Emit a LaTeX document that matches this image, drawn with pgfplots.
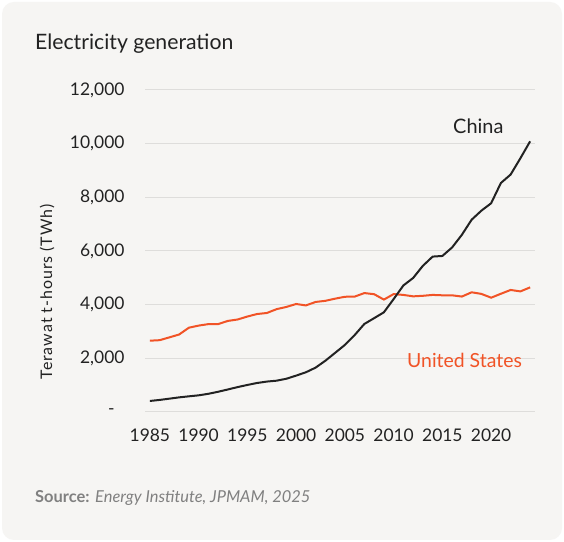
\documentclass[border=0pt]{standalone}
\usepackage{fontspec}
\setmainfont{Lato}
\usepackage{pgfplots}
\pgfplotsset{compat=1.18}

\definecolor{panel}{RGB}{246,245,243}
\definecolor{gridc}{RGB}{222,221,219}
\definecolor{ink}{RGB}{34,34,34}
\definecolor{usred}{RGB}{241,83,38}
\definecolor{srcgray}{RGB}{128,128,128}

\begin{document}
\begin{tikzpicture}[x=1bp,y=1bp]
  % card background
  \fill[white] (0,0) rectangle (564,542);
  \fill[panel, rounded corners=12bp] (2,2) rectangle (562,540);

  \begin{axis}[
    at={(145bp,130bp)}, anchor=south west,
    scale only axis, width=390bp, height=322bp,
    xmin=1984.5, xmax=2024.5, ymin=0, ymax=12000,
    scaled y ticks=false,
    axis line style={draw=none},
    major tick length=0pt,
    ymajorgrids, grid style={gridc, line width=1bp},
    xtick={1985,1990,1995,2000,2005,2010,2015,2020},
    xticklabels={1985,1990,1995,2000,2005,2010,2015,2020},
    ytick={0,2000,4000,6000,8000,10000,12000},
    yticklabels={{-\kern10bp},{2,000},{4,000},{6,000},{8,000},{10,000},{12,000}},
    /pgf/number format/assume math mode=true,
    tick label style={font=\fontsize{17.5}{20}\selectfont, text=ink},
    xticklabel style={yshift=-13bp},
    yticklabel style={xshift=-17bp},
    clip=false,
  ]
    % United States
    \addplot[usred, line width=2bp] coordinates {
      (1985,2657) (1986,2676) (1987,2781) (1988,2888) (1989,3141)
      (1990,3220) (1991,3275) (1992,3276) (1993,3394) (1994,3447)
      (1995,3558) (1996,3651) (1997,3690) (1998,3833) (1999,3915)
      (2000,4025) (2001,3972) (2002,4101) (2003,4143) (2004,4224)
      (2005,4294) (2006,4300) (2007,4432) (2008,4390) (2009,4189)
      (2010,4394) (2011,4363) (2012,4310) (2013,4330) (2014,4363)
      (2015,4349) (2016,4348) (2017,4302) (2018,4461) (2019,4401)
      (2020,4260) (2021,4406) (2022,4548) (2023,4494) (2024,4644)
    };
    % China
    \addplot[ink, line width=2bp] coordinates {
      (1985,411) (1986,450) (1987,497) (1988,545) (1989,584)
      (1990,621) (1991,678) (1992,754) (1993,840) (1994,928)
      (1995,1008) (1996,1081) (1997,1134) (1998,1167) (1999,1239)
      (2000,1356) (2001,1480) (2002,1654) (2003,1911) (2004,2204)
      (2005,2500) (2006,2866) (2007,3282) (2008,3496) (2009,3715)
      (2010,4208) (2011,4716) (2012,4994) (2013,5448) (2014,5791)
      (2015,5815) (2016,6133) (2017,6604) (2018,7166) (2019,7503)
      (2020,7779) (2021,8534) (2022,8849) (2023,9456) (2024,10087)
    };
  \end{axis}

  % titles and annotations
  \node[anchor=base west, text=ink, inner sep=0pt, font=\fontsize{21.3}{25}\selectfont]
    at (35,492) {Electricity generation};
  \node[rotate=90, text=ink, inner sep=0pt,
        font=\fontsize{16}{19}\selectfont\addfontfeatures{LetterSpace=6}]
    at (47,250) {Terawat t-hours (TWh)};
  \node[anchor=base west, text=ink, inner sep=0pt, font=\fontsize{20}{24}\selectfont]
    at (453,408) {China};
  \node[anchor=base west, text=usred, inner sep=0pt, font=\fontsize{19.5}{23}\selectfont]
    at (407,174) {United States};
  \node[anchor=base west, text=srcgray, inner sep=0pt, font=\fontsize{16.5}{20}\selectfont]
    at (35,39) {\textbf{Source:} \textit{Energy Institute, JPMAM, 2025}};
\end{tikzpicture}
\end{document}
